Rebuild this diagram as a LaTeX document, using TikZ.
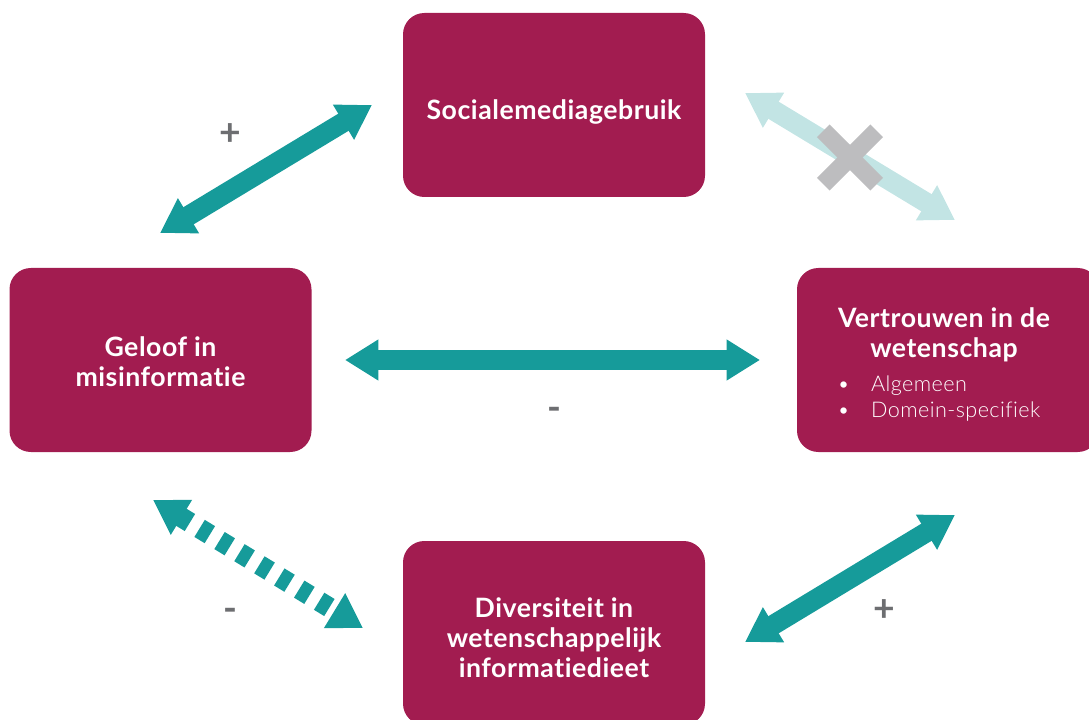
\documentclass[tikz,border=0pt]{standalone}
\usepackage{fontspec}
\setmainfont{Lato}[Ligatures=NoCommon]
\newfontfamily\lightfont{Lato Light}[Ligatures=NoCommon, LetterSpace=2]
\newfontfamily\titlefont{Lato}[Ligatures=NoCommon, LetterSpace=2]
\usetikzlibrary{arrows.meta}
\definecolor{boxc}{HTML}{A21C50}
\definecolor{arrteal}{HTML}{169B9A}
\definecolor{arrlight}{HTML}{C2E4E4}
\definecolor{xgray}{HTML}{BDBDBF}
\definecolor{lblgray}{HTML}{6D6E71}
\begin{document}
\begin{tikzpicture}[x=0.75pt,y=-0.75pt,
  box/.style={fill=boxc, rounded corners=16pt, minimum width=226.5pt, minimum height=138pt, inner sep=0pt},
  txt/.style={text=white, font=\titlefont\bfseries\fontsize{20}{22.5}\selectfont, align=center, inner sep=0pt},
  bul/.style={text=white, font=\lightfont\fontsize{16.2}{19.5}\selectfont, align=left, inner sep=0pt, anchor=west},
  dbl/.style={line width=15pt, {Triangle[length=25pt,width=29pt]}-{Triangle[length=25pt,width=29pt]}},
  lbl/.style={text=lblgray, font=\bfseries\fontsize{28}{30}\selectfont, inner sep=0pt}]
\useasboundingbox (0,0) rectangle (1089,720);
\clip (0,0) rectangle (1089,720);
% boxes
\node[box] (soc) at (554,105) {};
\node[box] (gel) at (160.5,360) {};
\node[box] (ver) at (948,360) {};
\node[box] (div) at (554,633) {};
% box texts
\node[txt] (st) at (554,112) {Socialemediagebruik};
\node[txt] (gt) at (160.5,362) {Geloof in\\misinformatie};
\node[txt] (vt) at (944,335) {Vertrouwen in de\\wetenschap};
\node[bul] (b1) at (837,386) {\textbullet\hspace{16pt}Algemeen};
\node[bul] (b2) at (837,412) {\textbullet\hspace{16pt}Domein-specifiek};
\node[txt] (dt) at (554,638) {Diversiteit in\\wetenschappelijk\\informatiedieet};
% arrow end points
\coordinate (a1s) at (160,233); \coordinate (a1e) at (372,105);
\coordinate (a2s) at (745,93);  \coordinate (a2e) at (955,220);
\coordinate (a3s) at (345,360); \coordinate (a3e) at (760,360);
\coordinate (a4s) at (745,642); \coordinate (a4e) at (955,515);
\coordinate (a5s) at (153,500); \coordinate (a5e) at (363,628);
% arrows
\draw[dbl, arrteal] (a1s) -- (a1e);
\draw[dbl, arrlight] (a2s) -- (a2e);
\draw[dbl, arrteal] (a3s) -- (a3e);
\draw[dbl, arrteal] (a4s) -- (a4e);
\draw[dbl, arrteal, dash pattern=on 9pt off 8.5pt] (a5s) -- (a5e);
% cross
\coordinate (xc) at (850,157.5);
\draw[xgray, line width=13.5pt] (823.3,130.8) -- (876.7,184.2);
\draw[xgray, line width=13.5pt] (876.7,130.8) -- (823.3,184.2);
% labels
\node[lbl] (p1) at (230,135) {+};
\node[lbl] (m1) at (554,414) {-};
\node[lbl] (m2) at (230,615) {-};
\node[lbl] (p2) at (884,611) {+};
\end{tikzpicture}
\end{document}
